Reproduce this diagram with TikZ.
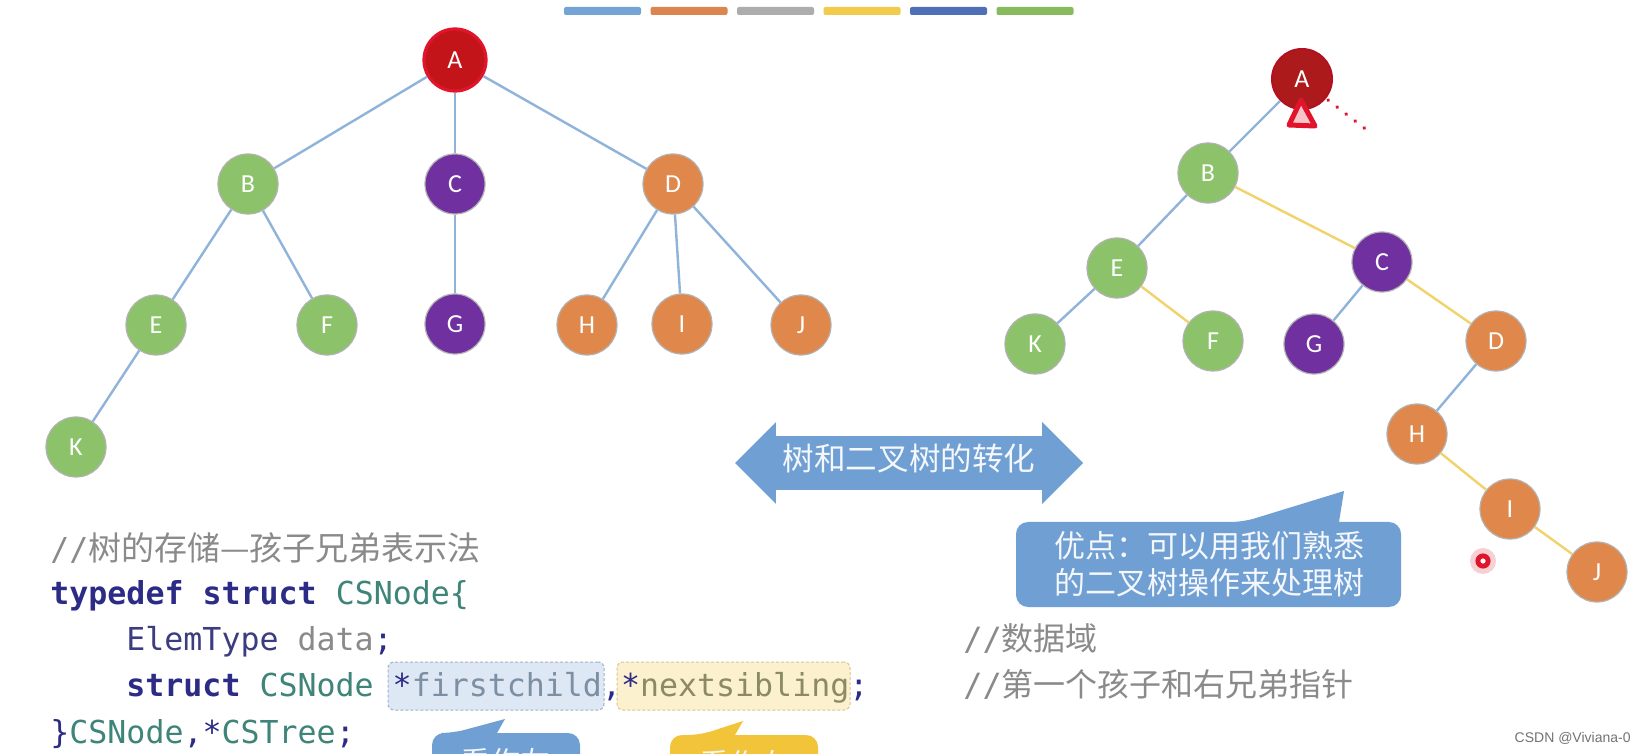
\documentclass[tikz,border=0pt]{standalone}
\usepackage{fontspec}
\setmainfont{Carlito}
\newfontfamily\codefont{DejaVu Sans Mono}
\newfontfamily\cjk{Noto Sans CJK SC}
\newfontfamily\wmfont{Liberation Sans}
\usetikzlibrary{positioning, shapes.arrows}

\definecolor{nvert}{HTML}{8CC36A}
\definecolor{nviolet}{HTML}{7030A0}
\definecolor{norange}{HTML}{E0884B}
\definecolor{nrougeA}{HTML}{C3141A}
\definecolor{nrougeB}{HTML}{AC1A1C}
\definecolor{lienbleu}{HTML}{8FB3DA}
\definecolor{lienjaune}{HTML}{F1D26B}
\definecolor{bulle}{HTML}{6F9FD3}
\definecolor{caljaune}{HTML}{F1C43A}
\definecolor{annot}{HTML}{E0142A}
\definecolor{kw}{HTML}{2C2C86}
\definecolor{kwn}{HTML}{3C3C80}
\definecolor{ty}{HTML}{3E8478}
\definecolor{gris}{HTML}{8A8A8A}
\definecolor{fcol}{HTML}{7D8FA3}
\definecolor{ncol}{HTML}{8C8A66}
\definecolor{hlb}{HTML}{DDE8F4}
\definecolor{hlbd}{HTML}{9DB3CC}
\definecolor{hlj}{HTML}{FCF1CF}
\definecolor{hljd}{HTML}{D8C48C}
\definecolor{b1}{HTML}{74A3D6}
\definecolor{b2}{HTML}{DC8550}
\definecolor{b3}{HTML}{ADADAD}
\definecolor{b4}{HTML}{F0CB4C}
\definecolor{b5}{HTML}{4F70B8}
\definecolor{b6}{HTML}{86BA5C}

\begin{document}
\begin{tikzpicture}[x=0.5pt, y=-0.5pt, on grid,
    noeud/.style={circle, minimum size=30pt, inner sep=0pt, draw=black!30,
      line width=0.6pt, text=white, font=\fontsize{13}{13}\selectfont},
    vert/.style={noeud, fill=nvert},
    violet/.style={noeud, fill=nviolet},
    orange/.style={noeud, fill=norange},
    lien/.style={color=lienbleu, line width=1.2pt},
    lienj/.style={color=lienjaune, line width=1.2pt},
    code/.style={anchor=base west, inner sep=0pt, font=\codefont\fontsize{15.8}{19}\selectfont},
    comm/.style={code, text=gris, font=\codefont\fontsize{16}{19}\selectfont},
    surligne/.style={rectangle, rounded corners=3pt, line width=0.5pt,
      dash pattern=on 1.5pt off 1pt, minimum height=24pt},
    texteblanc/.style={text=white!92!bulle, font=\cjk\fontsize{15.5}{18.5}\selectfont, align=center},
    marque/.style={draw=annot, line width=2.5pt, line join=round}]

  \useasboundingbox (0,0) rectangle (1646,754);
  \clip (0,0) rectangle (1646,754);
  \fill[white] (0,0) rectangle (1646,754);

  % Barres de couleur
  \foreach \c [count=\i from 0] in {b1,b2,b3,b4,b5,b6}
    \fill[\c, rounded corners=1pt] ({564+86.5*\i},7) rectangle +(77,8);

  % Arbre
  \node[noeud, fill=nrougeA, draw=annot, line width=1.6pt, minimum size=31pt] (tA) at (455,60) {A};
  \node[vert, below left=62pt and 103.5pt of tA] (tB) {B};
  \node[violet, below=62pt of tA] (tC) {C};
  \node[orange, below right=62pt and 109pt of tA] (tD) {D};
  \node[vert, below left=70.5pt and 46pt of tB] (tE) {E};
  \node[vert, below right=70.5pt and 39.5pt of tB] (tF) {F};
  \node[violet, below=70pt of tC] (tG) {G};
  \node[orange, below left=70.5pt and 43pt of tD] (tH) {H};
  \node[orange, below right=70pt and 4.5pt of tD] (tI) {I};
  \node[orange, below right=70.5pt and 64pt of tD] (tJ) {J};
  \node[vert, below left=61pt and 40pt of tE] (tK) {K};

  \path[lien]
    (tA) edge (tB) (tA) edge (tC) (tA) edge (tD)
    (tB) edge (tE) (tB) edge (tF) (tC) edge (tG)
    (tD) edge (tH) (tD) edge (tI) (tD) edge (tJ)
    (tE) edge (tK);

  % Arbre binaire
  \node[noeud, fill=nrougeB, draw=annot!80!black, line width=1pt] (bA) at (1302,79) {A};
  \node[vert, below left=47pt and 47pt of bA] (bB) {B};
  \node[vert, below left=47.5pt and 45.5pt of bB] (bE) {E};
  \node[violet, below right=44.5pt and 87pt of bB] (bC) {C};
  \node[vert, below left=38pt and 41pt of bE] (bK) {K};
  \node[vert, below right=36.5pt and 48pt of bE] (bF) {F};
  \node[violet, below left=41pt and 34pt of bC] (bG) {G};
  \node[orange, below right=39.5pt and 57pt of bC] (bD) {D};
  \node[orange, below left=46.5pt and 39.5pt of bD] (bH) {H};
  \node[orange, below right=37.5pt and 46.5pt of bH] (bI) {I};
  \node[orange, below right=31.5pt and 43.5pt of bI] (bJ) {J};

  \path[lien]
    (bA) edge (bB) (bB) edge (bE) (bE) edge (bK)
    (bC) edge (bG) (bD) edge (bH);
  \path[lienj]
    (bB) edge (bC) (bE) edge (bF) (bC) edge (bD)
    (bH) edge (bI) (bI) edge (bJ);

  % Annotations rouges
  \draw[marque, fill=annot!25] (1301,100) -- (1289,125) -- (1315,126) -- cycle;
  \draw[annot, line width=1.8pt, line cap=round, dash pattern=on 0.2pt off 5.5pt] (1328,100) -- (1372,134);
  \fill[annot, opacity=0.2] (1483,561) circle (6.5pt);
  \fill[annot] (1483,561) circle (3.8pt);
  \fill[white] (1483,561) circle (1.3pt);

  % Fleche double
  \node[double arrow, fill=bulle, minimum height=174pt, double arrow head extend=7pt,
    inner xsep=2pt, inner ysep=6.25pt, text height=11pt, text depth=3pt,
    texteblanc, font=\cjk\fontsize{15.8}{16}\selectfont] (conv) at (909,463) {树和二叉树的转化};

  % Bulle
  \fill[bulle] (1016,560) [rounded corners=6pt] -- (1016,522) -- (1243,522) [sharp corners]
    -- (1344,491) -- (1339,522) [rounded corners=6pt] -- (1401,522) -- (1401,607) -- (1016,607) -- cycle;
  \node[texteblanc] (avant) at (1209,564) {优点：可以用我们熟悉\\的二叉树操作来处理树};

  % Code
  \node[surligne, fill=hlb, draw=hlbd, minimum width=108pt] (fc) at (496,686) {};
  \node[surligne, fill=hlj, draw=hljd, minimum width=116.5pt] (ns) at (733.5,686) {};

  \node[code] (l1) at (50,560) {\color{gris}//{\cjk\fontsize{16.5}{19}\selectfont 树的存储—孩子兄弟表示法}};
  \node[code] (l2) at (50,604) {\textcolor{kw}{\bfseries typedef struct} \textcolor{ty}{CSNode\{}};
  \node[code] (l3) at (126,650) {\textcolor{kwn}{ElemType} \textcolor{gris}{data}\textcolor{kw}{;}};
  \node[code] (l4) at (126,697) {\textcolor{kw}{\bfseries struct} \textcolor{ty}{CSNode}
    \textcolor{kw}{*}\textcolor{fcol}{firstchild}\textcolor{kw}{,*}\textcolor{ncol}{nextsibling}\textcolor{kw}{;}};
  \node[code] (l5) at (50,743) {\textcolor{kw}{\}}\textcolor{ty}{CSNode}\textcolor{kw}{,*}\textcolor{ty}{CSTree}\textcolor{kw}{;}};

  \node[comm] (c3) at (963,650) {//{\cjk 数据域}};
  \node[comm] (c4) at (963,697) {//{\cjk 第一个孩子和右兄弟指针}};

  % Bulles du bas
  \fill[bulle] (432,800) [rounded corners=6pt] -- (432,733) -- (453,733) [sharp corners]
    -- (505,719) -- (497,733) [rounded corners=6pt] -- (580,733) -- (580,800) -- cycle;
  \fill[caljaune] (670,800) [rounded corners=6pt] -- (670,735) -- (700,735) [sharp corners]
    -- (743,721) -- (735,735) [rounded corners=6pt] -- (818,735) -- (818,800) -- cycle;
  \node[texteblanc, font=\cjk\fontsize{15}{18}\selectfont] (gauche) at (505,762) {看作左};
  \node[texteblanc, font=\cjk\fontsize{15}{18}\selectfont] (droite) at (744,764) {看作右};

  \node[anchor=east, inner sep=0pt, text=black!55, font=\wmfont\fontsize{7}{8}\selectfont] (wm) at (1631,738) {CSDN @Viviana-0};
\end{tikzpicture}
\end{document}
